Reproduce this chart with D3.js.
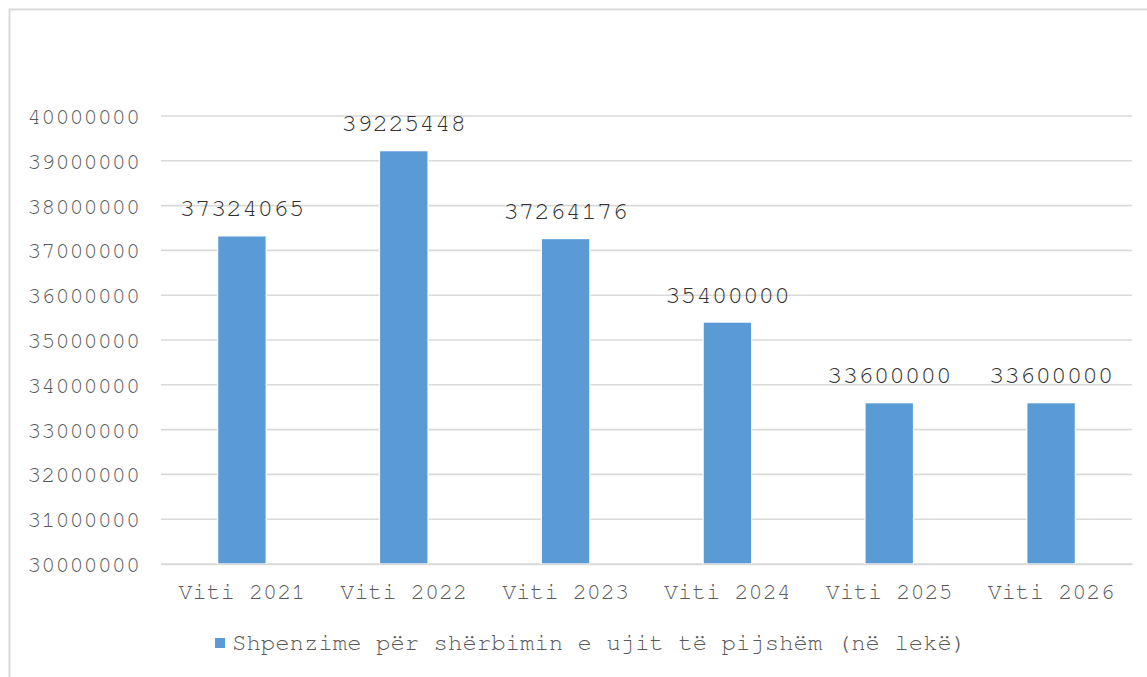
<!DOCTYPE html>
<html><head><meta charset="utf-8">
<script src="https://cdn.jsdelivr.net/npm/d3@7"></script>
<style>html,body{margin:0;padding:0;background:#fff;}svg{display:block;}</style>
</head><body>
<svg id="c" width="1147" height="677"></svg>
<script>
const categories = ["Viti 2021","Viti 2022","Viti 2023","Viti 2024","Viti 2025","Viti 2026"];
const values = [37324065, 39225448, 37264176, 35400000, 33600000, 33600000];
const tickValues = [30000000,31000000,32000000,33000000,34000000,35000000,36000000,37000000,38000000,39000000,40000000];
const seriesName = "Shpenzime për shërbimin e ujit të pijshëm (në lekë)";

const svg = d3.select("#c");
const font = "'Nimbus Mono PS','Nimbus Mono L','FreeMono','Courier 10 Pitch','Liberation Mono',monospace";
// chart frame
svg.append("rect").attr("x",9.5).attr("y",9.5).attr("width",1160).attr("height",700)
  .attr("fill","none").attr("stroke","#d9d9d9").attr("stroke-width",2);

const x = d3.scaleBand().domain(categories).range([161,1132]).paddingInner(0.7).paddingOuter(0.35);
const y = d3.scaleLinear().domain([30000000,40000000]).range([564,116]);

// gridlines
svg.append("g").selectAll("line").data(tickValues).join("line")
  .attr("x1",161).attr("x2",1132).attr("y1",d=>y(d)).attr("y2",d=>y(d))
  .attr("stroke","#d9d9d9").attr("stroke-width",1.6);

// y axis labels
const yAxis = d3.axisLeft(y).tickValues(tickValues).tickFormat(d3.format("d")).tickSize(0).tickPadding(21);
const gy = svg.append("g").attr("transform","translate(161,0)").call(yAxis);
gy.select(".domain").remove();
gy.selectAll("text").attr("font-family",font).attr("font-size","23.5px").attr("fill","#595959");

// bars
svg.append("g").selectAll("rect").data(values).join("rect")
  .attr("x",(d,i)=>x(categories[i])).attr("width",x.bandwidth())
  .attr("y",d=>y(d)).attr("height",d=>y(30000000)-y(d))
  .attr("fill","#5b9bd5").attr("stroke","#fff").attr("stroke-width",1.2);

// x axis
const xAxis = d3.axisBottom(x).tickSize(0).tickPadding(18);
const gx = svg.append("g").attr("transform","translate(0,564)").call(xAxis);
gx.select(".domain").attr("stroke","#d9d9d9").attr("stroke-width",1.6);
gx.selectAll("text").attr("font-family",font).attr("font-size","23.5px").attr("fill","#595959");

// data labels
svg.append("g").selectAll("text").data(values).join("text")
  .attr("x",(d,i)=>x(categories[i])+x.bandwidth()/2)
  .attr("y",d=>y(d)-19.5)
  .attr("text-anchor","middle").attr("font-family",font).attr("font-size","26px").attr("fill","#303030")
  .text(d=>d3.format("d")(d));

// legend
svg.append("rect").attr("x",215).attr("y",638).attr("width",10).attr("height",10).attr("fill","#5b9bd5");
svg.append("text").attr("x",232).attr("y",650).attr("font-family",font).attr("font-size","24px")
  .attr("fill","#595959").text(seriesName);
</script>
</body></html>
